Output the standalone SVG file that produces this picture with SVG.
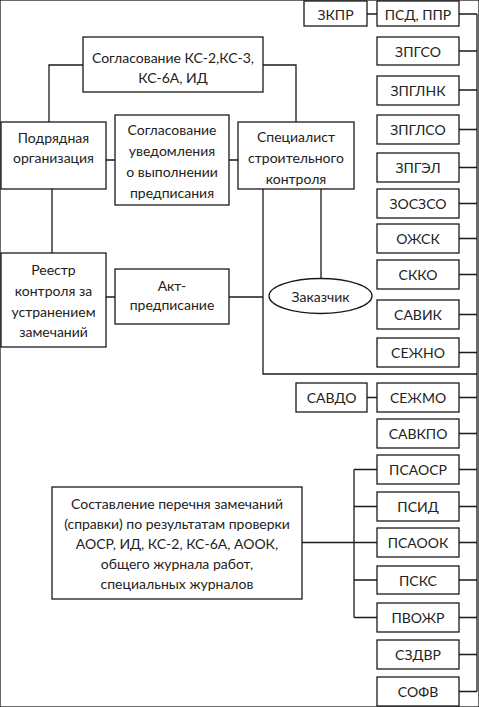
<svg xmlns="http://www.w3.org/2000/svg" width="479" height="707" viewBox="0 0 479 707">
<style>
rect,ellipse{fill:#fff;stroke:#1a1a1a;stroke-width:1.3}
.c path{fill:none;stroke:#1a1a1a;stroke-width:1.3}
text{font-family:Lato,"Liberation Sans",sans-serif;font-size:14px;fill:#222;text-anchor:middle;dominant-baseline:central}
</style>
<rect width="479" height="707" fill="#fff" stroke="none"/>
<g class="c" id="connectors">
<path d="M83 65H49V122M263 65H296V122"/>
<path d="M106 160H115M229 160H238"/>
<path d="M52 189V253M106 297H115M229 297H263M263 189V374H477M321 189V278"/>
<path d="M477 14V691.5"/>
<path d="M367 14H377M459 14H477M459 51H477M459 90H477M459 129.5H477M459 167.5H477M459 203.5H477M459 238.5H477M459 274.5H477M459 314.5H477M459 352.5H477"/>
<path d="M367 397.5H377M459 397.5H477M459 433.5H477M459 469.5H477M459 506.5H477M459 542.5H477M459 580H477M459 617.5H477M459 654.5H477M459 691.5H477"/>
<path d="M302 542.5H377M354 469.5V617.5M354 469.5H377M354 506.5H377M354 580H377M354 617.5H377"/>
</g>
<g id="n-soglKS"><rect x="83" y="37" width="180" height="55"/><text x="173" y="57">Согласование КС-2,КС-3,</text><text x="173" y="77">КС-6А, ИД</text></g>
<g id="n-podr"><rect x="1" y="122" width="105" height="67"/><text x="53.5" y="137">Подрядная</text><text x="53.5" y="157">организация</text></g>
<g id="n-soglUv"><rect x="115" y="115" width="114" height="90"/><text x="172" y="129">Согласование</text><text x="172" y="150">уведомления</text><text x="172" y="171">о выполнении</text><text x="172" y="192">предписания</text></g>
<g id="n-spec"><rect x="238" y="122" width="116" height="67"/><text x="296" y="136">Специалист</text><text x="296" y="157">строительного</text><text x="296" y="178">контроля</text></g>
<g id="n-reestr"><rect x="1" y="253" width="105" height="94"/><text x="53.5" y="269">Реестр</text><text x="53.5" y="290">контроля за</text><text x="53.5" y="311">устранением</text><text x="53.5" y="331">замечаний</text></g>
<g id="n-akt"><rect x="115" y="269" width="114" height="55"/><text x="172" y="285">Акт-</text><text x="172" y="304">предписание</text></g>
<g id="n-zak"><ellipse cx="320.5" cy="296" rx="51.5" ry="17.5"/><text x="320.5" y="296">Заказчик</text></g>
<g id="n-sost"><rect x="52" y="487" width="250" height="112"/><text x="177" y="503">Составление перечня замечаний</text><text x="177" y="523">(справки) по результатам проверки</text><text x="177" y="543">АОСР, ИД, КС-2, КС-6А, АООК,</text><text x="177" y="563">общего журнала работ,</text><text x="177" y="583">специальных журналов</text></g>
<g id="n-zkpr"><rect x="304" y="1" width="63" height="25"/><text x="335.5" y="14">ЗКПР</text></g>
<g id="n-psd"><rect x="377" y="1" width="82" height="25"/><text x="418" y="14">ПСД, ППР</text></g>
<g id="n-zpgso"><rect x="377" y="37" width="82" height="28"/><text x="418" y="51">ЗПГСО</text></g>
<g id="n-zpglnk"><rect x="377" y="76" width="82" height="29"/><text x="418" y="90.5">ЗПГЛНК</text></g>
<g id="n-zpglso"><rect x="377" y="115" width="82" height="29"/><text x="418" y="129.5">ЗПГЛСО</text></g>
<g id="n-zpgel"><rect x="377" y="153" width="82" height="29"/><text x="418" y="167.5">ЗПГЭЛ</text></g>
<g id="n-zoszso"><rect x="377" y="189" width="82" height="29"/><text x="418" y="203.5">ЗОСЗСО</text></g>
<g id="n-ozhsk"><rect x="377" y="224" width="82" height="29"/><text x="418" y="238.5">ОЖСК</text></g>
<g id="n-skko"><rect x="377" y="260" width="82" height="29"/><text x="418" y="274.5">СККО</text></g>
<g id="n-savik"><rect x="377" y="300" width="82" height="29"/><text x="418" y="314.5">САВИК</text></g>
<g id="n-sezhno"><rect x="377" y="338" width="82" height="29"/><text x="418" y="352.5">СЕЖНО</text></g>
<g id="n-savdo"><rect x="296" y="383" width="71" height="29"/><text x="331.5" y="397.5">САВДО</text></g>
<g id="n-sezhmo"><rect x="377" y="383" width="82" height="29"/><text x="418" y="397.5">СЕЖМО</text></g>
<g id="n-savkpo"><rect x="377" y="419" width="82" height="29"/><text x="418" y="433.5">САВКПО</text></g>
<g id="n-psaosr"><rect x="377" y="455" width="82" height="29"/><text x="418" y="469.5">ПСАОСР</text></g>
<g id="n-psid"><rect x="377" y="492" width="82" height="29"/><text x="418" y="506.5">ПСИД</text></g>
<g id="n-psaook"><rect x="377" y="528" width="82" height="29"/><text x="418" y="542.5">ПСАООК</text></g>
<g id="n-psks"><rect x="377" y="566" width="82" height="28"/><text x="418" y="580">ПСКС</text></g>
<g id="n-pvozhr"><rect x="377" y="603" width="82" height="29"/><text x="418" y="617.5">ПВОЖР</text></g>
<g id="n-szdvr"><rect x="377" y="640" width="82" height="29"/><text x="418" y="654.5">СЗДВР</text></g>
<g id="n-sofv"><rect x="377" y="677" width="82" height="29"/><text x="418" y="691.5">СОФВ</text></g>
</svg>
